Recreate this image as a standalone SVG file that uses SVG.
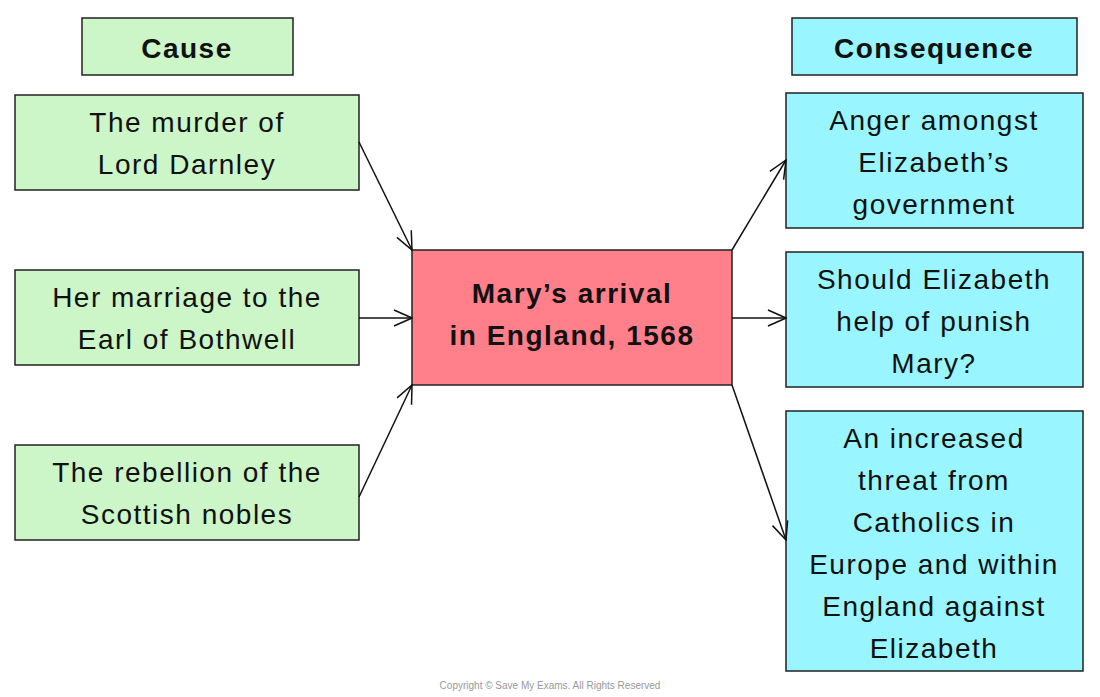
<svg xmlns="http://www.w3.org/2000/svg" width="1100" height="697" viewBox="0 0 1100 697">
<defs>
<style>
.b{stroke:#222;stroke-width:1.5}
.g{fill:#ccf5c8}.c{fill:#99f5ff}.p{fill:#ff7f8a}
text{font-family:"Liberation Sans","DejaVu Sans",sans-serif;fill:#111;text-anchor:middle}
.t{font-size:28px;letter-spacing:1.5px}
.h{font-size:28px;font-weight:bold;letter-spacing:1.5px}
.l{stroke:#111;stroke-width:1.5;fill:none}
</style>
<marker id="a" viewBox="0 0 20 20" refX="19" refY="10" markerWidth="20" markerHeight="20" markerUnits="userSpaceOnUse" orient="auto"><path d="M1,2 L19,10 L1,18" fill="none" stroke="#111" stroke-width="1.5"/></marker>
</defs>
<rect width="1100" height="697" fill="#fff"/>
<g id="cause"><rect class="b g" x="82" y="18" width="211" height="57"/><text class="h" x="187" y="58">Cause</text></g>
<g id="consequence"><rect class="b c" x="792" y="18" width="285" height="57"/><text class="h" x="934" y="58">Consequence</text></g>
<g id="c1"><rect class="b g" x="15" y="95" width="344" height="95"/><text class="t" x="187" y="132">The murder of</text><text class="t" x="187" y="174">Lord Darnley</text></g>
<g id="c2"><rect class="b g" x="15" y="270" width="344" height="95"/><text class="t" x="187" y="307">Her marriage to the</text><text class="t" x="187" y="349">Earl of Bothwell</text></g>
<g id="c3"><rect class="b g" x="15" y="445" width="344" height="95"/><text class="t" x="187" y="482">The rebellion of the</text><text class="t" x="187" y="524">Scottish nobles</text></g>
<g id="center"><rect class="b p" x="412" y="250" width="320" height="135"/><text class="h" x="572" y="303">Mary’s arrival</text><text class="h" x="572" y="345">in England, 1568</text></g>
<g id="r1"><rect class="b c" x="786" y="93" width="297" height="135"/><text class="t" x="934" y="130">Anger amongst</text><text class="t" x="934" y="172">Elizabeth’s</text><text class="t" x="934" y="214">government</text></g>
<g id="r2"><rect class="b c" x="786" y="252" width="297" height="135"/><text class="t" x="934" y="289">Should Elizabeth</text><text class="t" x="934" y="331">help of punish</text><text class="t" x="934" y="373">Mary?</text></g>
<g id="r3"><rect class="b c" x="786" y="411" width="297" height="260"/><text class="t" x="934" y="448">An increased</text><text class="t" x="934" y="490">threat from</text><text class="t" x="934" y="532">Catholics in</text><text class="t" x="934" y="574">Europe and within</text><text class="t" x="934" y="616">England against</text><text class="t" x="934" y="658">Elizabeth</text></g>
<g id="connectors">
<path class="l" d="M359,142 L412,250" marker-end="url(#a)"/>
<path class="l" d="M359,318 L412,318" marker-end="url(#a)"/>
<path class="l" d="M359,497 L412,385" marker-end="url(#a)"/>
<path class="l" d="M732,250 L786,160" marker-end="url(#a)"/>
<path class="l" d="M732,318 L786,318" marker-end="url(#a)"/>
<path class="l" d="M732,385 L786,540" marker-end="url(#a)"/>
</g>
<text x="550" y="689" style="font-size:10px;fill:#999">Copyright © Save My Exams. All Rights Reserved</text>
</svg>
